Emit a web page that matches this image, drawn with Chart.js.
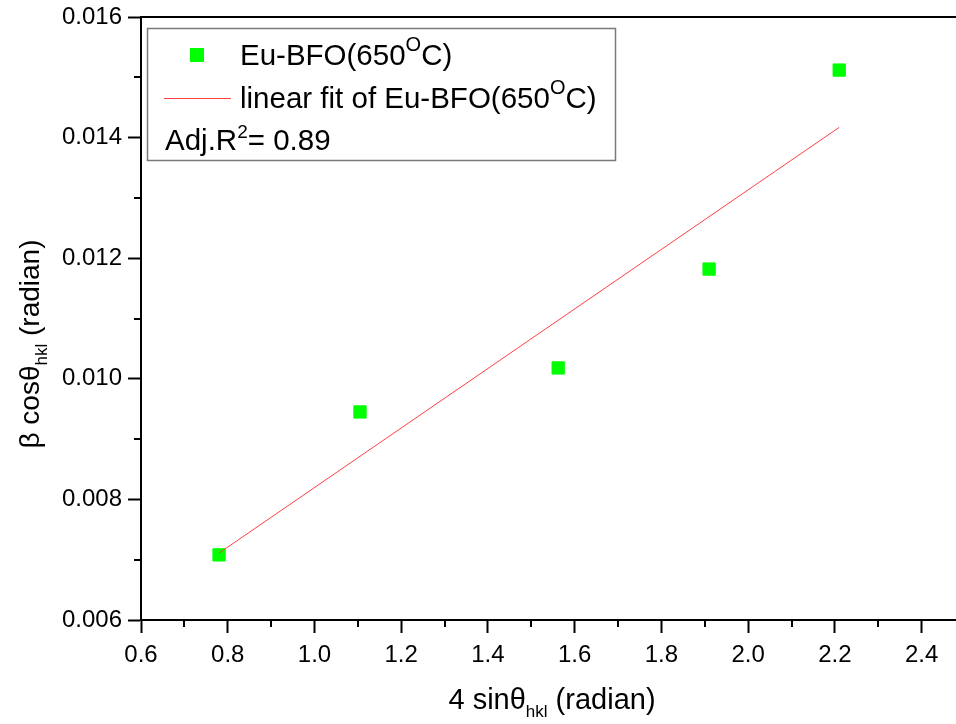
<!DOCTYPE html>
<html><head><meta charset="utf-8">
<script src="https://cdn.jsdelivr.net/npm/chart.js@4"></script>
<style>html,body{margin:0;padding:0;background:#fff;overflow:hidden;width:956px;height:724px}canvas{display:block}</style>
</head><body>
<canvas id="c" width="966" height="724"></canvas>
<script>
// ---- data ----
const sampleX = [0.78, 1.105, 1.562, 1.91, 2.21];
const sampleY = [0.00708, 0.00945, 0.01018, 0.01182, 0.01512];
const fitX = [0.78, 2.21];
const fitY = [0.00711, 0.01417];
const xTickValues = [0.6, 0.8, 1.0, 1.2, 1.4, 1.6, 1.8, 2.0, 2.2, 2.4];
const yTickValues = [0.006, 0.008, 0.010, 0.012, 0.014, 0.016];
const xMinorValues = [0.7, 0.9, 1.1, 1.3, 1.5, 1.7, 1.9, 2.1, 2.3];
const yMinorValues = [0.007, 0.009, 0.011, 0.013, 0.015];
const sampleName = 'Eu-BFO(650°C)';
const fitName = 'linear fit of Eu-BFO(650°C)';
const adjR2 = '0.89';

const FAMILY = '"Liberation Sans", Arial, Helvetica, sans-serif';
const f = s => s + 'px ' + FAMILY;

function drawRich(ctx, parts, x, y, align) {
  let w = 0;
  parts.forEach(p => { ctx.font = f(p.size); w += ctx.measureText(p.t).width; });
  let cx = align === 'center' ? x - w / 2 : x;
  parts.forEach(p => {
    ctx.font = f(p.size);
    ctx.fillText(p.t, cx, y + (p.dy || 0));
    cx += ctx.measureText(p.t).width;
  });
}

const decor = {
  id: 'decor',
  afterDraw(chart) {
    const ctx = chart.ctx, ca = chart.chartArea;
    const xs = chart.scales.x, ys = chart.scales.y;
    ctx.save();
    ctx.strokeStyle = '#000';
    ctx.lineWidth = 2;
    // top frame line
    ctx.beginPath(); ctx.moveTo(ca.left - 1, ca.top); ctx.lineTo(ca.right, ca.top); ctx.stroke();
    // minor ticks
    xMinorValues.forEach(v => {
      const px = Math.round(xs.getPixelForValue(v));
      ctx.beginPath(); ctx.moveTo(px, ca.bottom); ctx.lineTo(px, ca.bottom + 7); ctx.stroke();
    });
    yMinorValues.forEach(v => {
      const py = Math.round(ys.getPixelForValue(v));
      ctx.beginPath(); ctx.moveTo(ca.left - 7, py); ctx.lineTo(ca.left, py); ctx.stroke();
    });

    ctx.fillStyle = '#000';
    ctx.textBaseline = 'alphabetic';
    ctx.textAlign = 'left';
    // x axis title
    drawRich(ctx, [
      {t: '4 sinθ', size: 29},
      {t: 'hkl', size: 17, dy: 8},
      {t: ' (radian)', size: 29}
    ], 552, 709, 'center');
    // y axis title
    ctx.save();
    ctx.translate(39, 344);
    ctx.rotate(-Math.PI / 2);
    drawRich(ctx, [
      {t: 'β cosθ', size: 28},
      {t: 'hkl', size: 17, dy: 8},
      {t: ' (radian)', size: 28}
    ], 0, 0, 'center');
    ctx.restore();

    // legend box
    const bx = ca.left + 6, by = ca.top + 11;
    ctx.strokeStyle = '#7a7a7a';
    ctx.lineWidth = 1.5;
    ctx.strokeRect(bx + 0.5, by + 0.5, 468, 132);
    const dsP = chart.data.datasets[0], dsL = chart.data.datasets[1];
    // row 1 marker
    ctx.fillStyle = dsP.pointBackgroundColor;
    ctx.fillRect(bx + 43, by + 20, 14, 14);
    ctx.fillStyle = '#000';
    drawRich(ctx, [
      {t: 'Eu-BFO(650', size: 29.5},
      {t: 'O', size: 20, dy: -14},
      {t: 'C)', size: 29.5}
    ], bx + 93, by + 37);
    // row 2 line
    ctx.strokeStyle = dsL.borderColor;
    ctx.lineWidth = 1;
    ctx.beginPath(); ctx.moveTo(bx + 17, by + 70.5); ctx.lineTo(bx + 84, by + 70.5); ctx.stroke();
    drawRich(ctx, [
      {t: 'linear fit of Eu-BFO(650', size: 29.5},
      {t: 'O', size: 20, dy: -14},
      {t: 'C)', size: 29.5}
    ], bx + 93, by + 80);
    // row 3
    drawRich(ctx, [
      {t: 'Adj.R', size: 29.5},
      {t: '2', size: 19, dy: -12},
      {t: '= ' + adjR2, size: 29.5}
    ], bx + 18, by + 122);
    ctx.restore();
  }
};

const tickFont = {family: FAMILY, size: 24};

new Chart(document.getElementById('c'), {
  type: 'scatter',
  data: {
    datasets: [
      {
        label: sampleName,
        data: sampleX.map((x, i) => ({x, y: sampleY[i]})),
        pointStyle: 'rect',
        pointRadius: 8.7,
        pointBackgroundColor: '#00ff00',
        pointBorderColor: '#00ff00',
        pointBorderWidth: 1,
        showLine: false,
        order: 2
      },
      {
        label: fitName,
        data: fitX.map((x, i) => ({x, y: fitY[i]})),
        showLine: true,
        borderColor: '#ff4040',
        borderWidth: 1,
        pointRadius: 0,
        fill: false,
        order: 1
      }
    ]
  },
  plugins: [decor],
  options: {
    responsive: false,
    animation: false,
    devicePixelRatio: 1,
    layout: {padding: {top: 17, left: 0, right: 0, bottom: 0}},
    plugins: {legend: {display: false}, tooltip: {enabled: false}},
    scales: {
      x: {
        type: 'linear',
        min: 0.6,
        max: 2.48,
        afterBuildTicks: s => { s.ticks = xTickValues.map(v => ({value: v})); },
        afterFit: s => { s.height = 104; s.paddingLeft = 0; s.paddingRight = 0; },
        ticks: {autoSkip: false, maxRotation: 0, font: tickFont, color: '#000', padding: 8,
                callback: v => Number(v).toFixed(1)},
        grid: {drawOnChartArea: false, drawTicks: true, tickLength: 13, tickWidth: 2, tickColor: '#000'},
        border: {display: true, color: '#000', width: 2},
        title: {display: false}
      },
      y: {
        type: 'linear',
        min: 0.006,
        max: 0.016,
        afterBuildTicks: s => { s.ticks = yTickValues.map(v => ({value: v})); },
        afterFit: s => { s.width = 141; s.paddingTop = 0; s.paddingBottom = 0; },
        ticks: {autoSkip: false, font: tickFont, color: '#000', padding: 6,
                callback: v => Number(v).toFixed(3)},
        grid: {drawOnChartArea: false, drawTicks: true, tickLength: 13, tickWidth: 2, tickColor: '#000'},
        border: {display: true, color: '#000', width: 2},
        title: {display: false}
      }
    }
  }
});
</script>
</body></html>
